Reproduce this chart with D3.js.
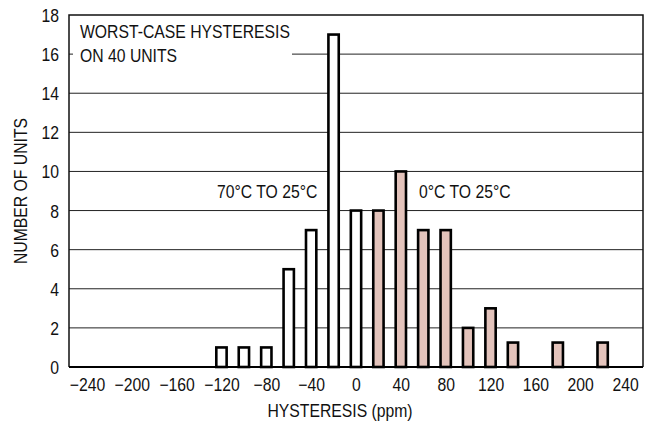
<!DOCTYPE html>
<html><head><meta charset="utf-8">
<script src="https://cdn.jsdelivr.net/npm/d3@7"></script>
<style>
html,body{margin:0;padding:0;background:#fff;}
text{font-family:"Liberation Sans",Arial,sans-serif;fill:#111;}
</style></head>
<body>
<svg id="c" width="651" height="425"></svg>
<script>
const hysteresis = [-120,-100,-80,-60,-40,-20,0,20,40,60,80,100,120,140,180,220];
const units      = [1,1,1,5,7,17,8,8,10,7,7,2,3,1.25,1.25,1.25];
const series     = ["hot","hot","hot","hot","hot","hot","hot","cold","cold","cold","cold","cold","cold","cold","cold","cold"];
const xTicks = [-240,-200,-160,-120,-80,-40,0,40,80,120,160,200,240];
const yTicks = [0,2,4,6,8,10,12,14,16,18];
const colors = {hot:"#ffffff", cold:"#e3c3bb"};

const svg = d3.select("#c");
const L=69, R=643, T=15, B=367;
const FS = 18, SX = 0.875;
const x = d3.scaleLinear().domain([-256,256]).range([L,R]);
const y = d3.scaleLinear().domain([0,18]).range([B,T]);
const fmt = d => d<0 ? "\u2212"+Math.abs(d) : String(d);

function label(tx, ty, str, anchor, rot) {
  return svg.append("text")
    .attr("transform", `translate(${tx},${ty})` + (rot ? ` rotate(${rot})` : "") + ` scale(${SX},1)`)
    .attr("text-anchor", anchor || "start").attr("font-size", FS).text(str);
}

// gridlines
svg.append("g").selectAll("line").data(yTicks.filter(d=>d>0&&d<18)).join("line")
  .attr("x1",L).attr("x2",R).attr("y1",d=>y(d)).attr("y2",d=>y(d))
  .attr("stroke","#222").attr("stroke-width",1);

// annotation box
svg.append("rect").attr("x",73).attr("y",T+2).attr("width",219).attr("height",50).attr("fill","#fff");
label(80, 38, "WORST-CASE HYSTERESIS");
label(80, 62, "ON 40 UNITS");

// bars
const hw = 4.6;
svg.append("g").selectAll("rect").data(hysteresis.map((h,i)=>({h,v:units[i],s:series[i]}))).join("rect")
  .attr("x",d=>x(d.h-hw)).attr("width",d=>x(d.h+hw)-x(d.h-hw))
  .attr("y",d=>y(d.v)).attr("height",d=>y(0)-y(d.v))
  .attr("fill",d=>colors[d.s]).attr("stroke","#000").attr("stroke-width",2.6);

// frame
svg.append("path").attr("d",`M${L},${B}V${T}H${R}V${B}`).attr("fill","none").attr("stroke","#111").attr("stroke-width",1.5);
svg.append("line").attr("x1",L).attr("x2",R).attr("y1",B).attr("y2",B).attr("stroke","#000").attr("stroke-width",2.2);

// axes labels
const xa = d3.axisBottom(x).tickValues(xTicks).tickSize(0).tickPadding(0).tickFormat(fmt);
const gx = svg.append("g").attr("transform",`translate(0,${B})`).call(xa);
gx.attr("font-family",null).attr("font-size",null);
gx.select(".domain").remove();
gx.selectAll("text").attr("dy",null).attr("y",null)
  .attr("transform",`translate(0,24) scale(${SX},1)`).attr("font-size",FS).attr("fill","#111");

const ya = d3.axisLeft(y).tickValues(yTicks).tickSize(0).tickPadding(0);
const gy = svg.append("g").attr("transform",`translate(59,0)`).call(ya);
gy.attr("font-family",null).attr("font-size",null);
gy.select(".domain").remove();
gy.selectAll("text").attr("x",null).attr("dy","0.36em")
  .attr("transform",`scale(${SX},1)`).attr("font-size",FS).attr("fill","#111");

label(340, 417, "HYSTERESIS (ppm)", "middle");
label(27, 191, "NUMBER OF UNITS", "middle", -90);

label(217, 198, "70\u00B0C TO 25\u00B0C");
label(419, 198, "0\u00B0C TO 25\u00B0C");
</script>
</body></html>
